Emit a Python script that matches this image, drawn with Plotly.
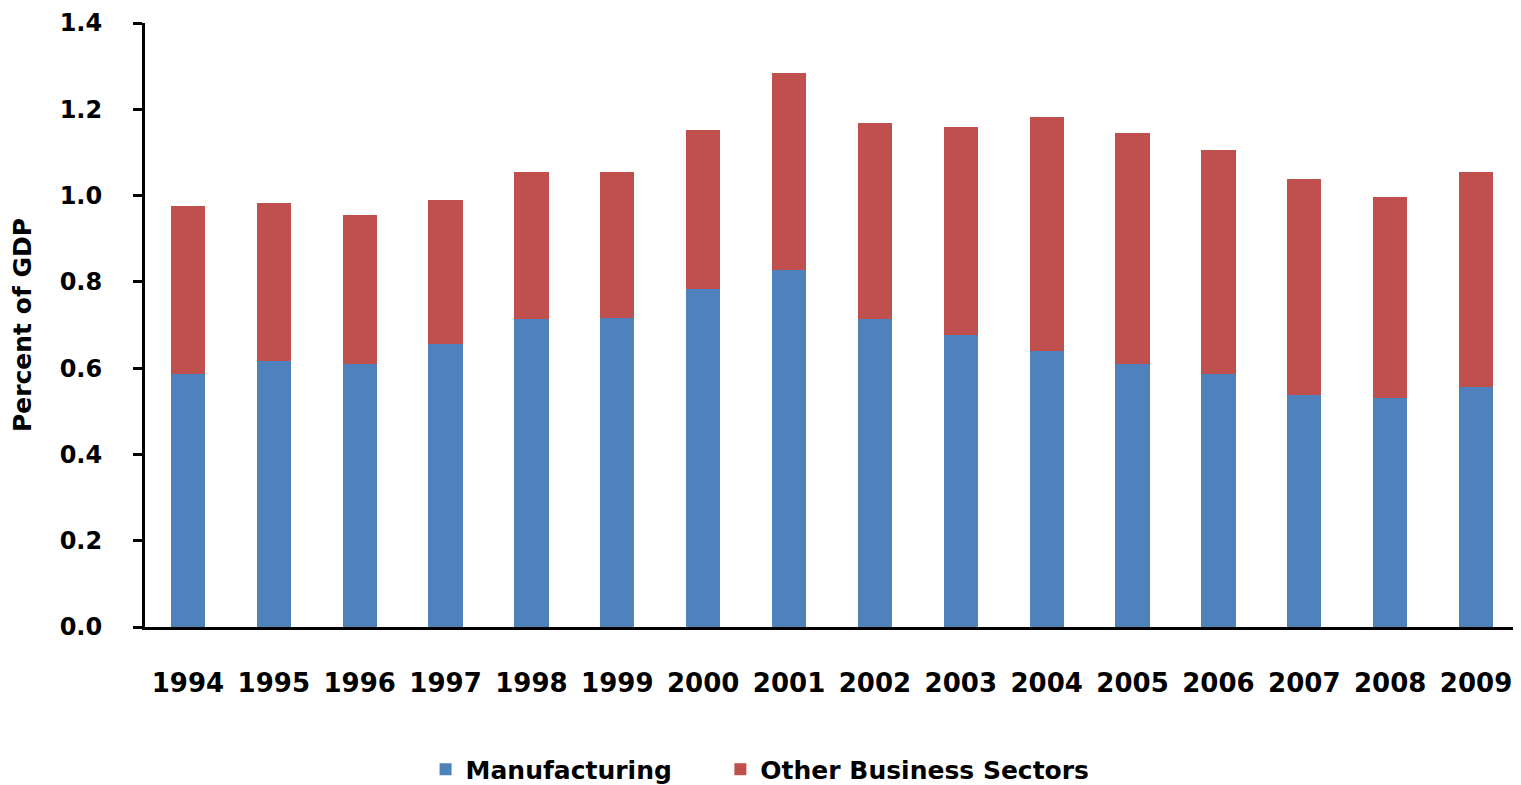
import plotly.graph_objects as go

years = ["1994", "1995", "1996", "1997", "1998", "1999", "2000", "2001",
         "2002", "2003", "2004", "2005", "2006", "2007", "2008", "2009"]
manufacturing = [0.586, 0.616, 0.609, 0.657, 0.713, 0.717, 0.784, 0.828,
                 0.713, 0.676, 0.639, 0.609, 0.586, 0.537, 0.530, 0.556]
total = [0.976, 0.982, 0.955, 0.989, 1.054, 1.054, 1.153, 1.285,
         1.169, 1.158, 1.181, 1.146, 1.105, 1.038, 0.996, 1.054]
other = [round(t - m, 3) for t, m in zip(total, manufacturing)]

FONT = "DejaVu Sans"
NBSP = "\u00a0"

fig = go.Figure()
fig.add_trace(go.Bar(x=years, y=manufacturing, name="Manufacturing" + NBSP * 5,
                     marker=dict(color="#4F81BD", line=dict(width=0))))
fig.add_trace(go.Bar(x=years, y=other, name="Other Business Sectors",
                     marker=dict(color="#C0504D", line=dict(width=0))))

# page body has an 8px margin, so the figure is sized to fit the window
fig.update_layout(
    barmode="stack",
    bargap=0.6,
    width=1513, height=777,
    margin=dict(l=137, r=2, t=15, b=158, autoexpand=False),
    paper_bgcolor="white", plot_bgcolor="white",
    font=dict(family=FONT, size=24, color="black", weight="bold"),
    showlegend=True,
    legend=dict(orientation="h", x=0.276, xref="container", xanchor="left",
                y=0.02, yref="container", yanchor="middle",
                font=dict(family=FONT, size=25, color="black", weight="bold"),
                itemwidth=30, traceorder="normal"),
    xaxis=dict(showline=True, linecolor="black", linewidth=3, ticks="",
               ticklabelstandoff=31, showgrid=False, automargin=False,
               ticklabeloverflow="allow",
               tickfont=dict(family=FONT, size=26, color="black", weight="bold")),
    yaxis=dict(range=[0, 1.4], dtick=0.2, tickformat=".1f", showline=True,
               linecolor="black", linewidth=3, ticks="outside", ticklen=9,
               tickwidth=3, tickcolor="black", showgrid=False, zeroline=False,
               ticklabelstandoff=26, automargin=False, ticklabeloverflow="allow",
               tickfont=dict(family=FONT, size=24, color="black", weight="bold"),
               title=dict(text="Percent of GDP", standoff=26,
                          font=dict(family=FONT, size=25, color="black", weight="bold"))),
)

fig.write_html("out.html")
